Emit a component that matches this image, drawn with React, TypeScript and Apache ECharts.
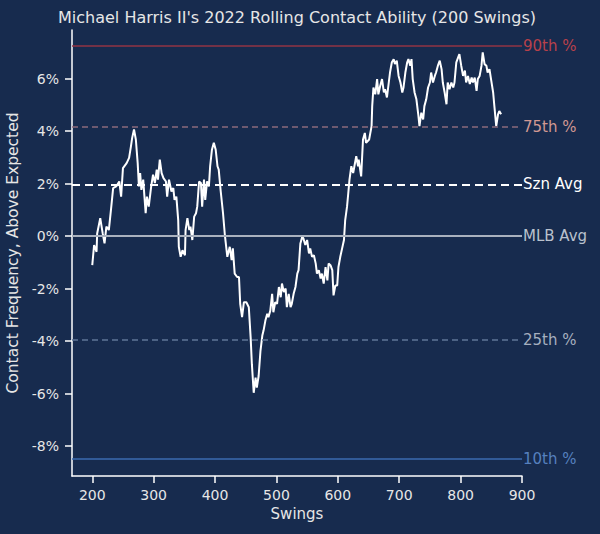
import React, { useEffect, useRef } from "react";
import * as echarts from "echarts";

const swings = [
  200, 203, 207, 208, 213, 217, 220, 223, 227, 231, 234, 239, 244, 247, 250, 256, 260, 263, 265, 268,
  271, 274, 276, 278, 280, 283, 285, 287, 289, 292, 296, 299, 302, 305, 307, 310, 313, 316, 320, 322,
  325, 329, 332, 334, 337, 340, 341, 344, 347, 351, 352, 355, 358, 360, 363, 366, 369, 371, 374, 377,
  379, 382, 384, 387, 390, 392, 395, 398, 401, 404, 406, 409, 413, 416, 420, 424, 427, 429, 432, 436,
  439, 441, 444, 447, 451, 455, 458, 460, 463, 466, 468, 471, 474, 477, 479, 482, 485, 487, 490, 493,
  495, 498, 501, 504, 507, 509, 512, 515, 517, 520, 523, 525, 528, 531, 534, 536, 539, 542, 544, 547,
  550, 553, 555, 558, 561, 564, 566, 569, 572, 574, 577, 580, 583, 585, 588, 591, 593, 596, 599, 601,
  604, 607, 610, 612, 615, 617, 619, 622, 625, 627, 630, 633, 634, 638, 641, 644, 646, 651, 655, 656,
  658, 661, 664, 666, 669, 672, 675, 677, 680, 683, 685, 688, 691, 693, 696, 699, 702, 705, 707, 710,
  713, 715, 718, 720, 722, 725, 728, 731, 733, 736, 739, 741, 744, 747, 750, 752, 755, 758, 760, 763,
  766, 769, 771, 774, 777, 779, 782, 785, 788, 790, 793, 796, 798, 801, 804, 807, 809, 812, 815, 818,
  820, 823, 826, 828, 831, 834, 836, 839, 842, 844, 847, 850, 853, 855, 858, 861, 863, 866,
];

const contact = [
  -1.11, -0.34, -0.6, 0.1, 0.68, 0.1, -0.28, 0.36, 0.23, 1.12, 1.83, 1.89, 2.08, 1.5, 2.59, 2.78, 2.98, 3.42, 3.74, 4.06,
  3.68, 2.78, 1.89, 2.4, 1.76, 2.15, 1.5, 0.87, 1.5, 1.12, 1.89, 2.34, 2.02, 2.53, 2.15, 2.91, 2.4, 2.21, 2.08, 1.5,
  2.15, 1.7, 1.83, 1.38, 1.5, 0.61, -0.41, -0.79, -0.54, -0.73, 0.23, 0.68, 0.23, 0.36, -0.15, 0.74, 0.87, 1.12, 2.08, 2.02,
  1.12, 2.15, 1.38, 2.08, 1.89, 2.66, 3.3, 3.55, 3.3, 2.66, 2.53, 1.76, 0.87, 0.04, -0.79, -0.41, -0.92, -0.47, -1.43, -1.56,
  -1.56, -2.58, -3.09, -2.52, -2.52, -2.71, -3.86, -4.88, -5.97, -5.39, -5.77, -5.33, -4.37, -3.79, -3.6, -3.22, -2.96, -3.09, -2.84, -2.2,
  -2.9, -2.52, -2.58, -1.94, -2.33, -1.81, -2.13, -2.0, -2.71, -2.2, -2.71, -2.58, -2.2, -1.94, -1.43, -1.3, -0.28, -0.03, -0.09, -0.34,
  -0.15, -0.66, -0.47, -0.79, -0.73, -1.05, -1.43, -1.3, -1.62, -1.43, -1.81, -1.18, -1.69, -1.05, -1.11, -1.3, -2.26, -1.88, -1.88, -1.18,
  -0.79, -0.47, -0.15, 0.61, 1.12, 1.63, 2.15, 2.66, 2.4, 2.66, 3.04, 2.66, 2.91, 2.27, 3.68, 3.93, 3.55, 3.68, 4.19, 4.95,
  5.66, 5.4, 5.98, 5.4, 5.72, 5.98, 5.47, 5.59, 5.28, 5.85, 6.23, 6.62, 6.74, 6.55, 6.68, 6.1, 5.85, 5.47, 5.66, 6.23,
  6.62, 6.74, 6.49, 6.74, 5.98, 5.47, 5.21, 4.64, 4.19, 4.7, 4.44, 4.95, 5.21, 5.66, 5.85, 6.23, 5.85, 6.1, 6.23, 6.49,
  6.68, 6.36, 5.85, 5.47, 5.02, 5.85, 5.59, 5.85, 5.66, 5.85, 6.62, 6.81, 6.93, 6.49, 6.1, 6.3, 5.85, 6.1, 5.79, 6.04,
  5.85, 6.04, 5.53, 5.98, 6.1, 6.49, 7.0, 6.55, 6.49, 6.23, 6.36, 5.91, 5.47, 4.95, 4.19, 4.64, 4.76, 4.64,
];

const refNames = ["90th %", "75th %", "Szn Avg", "MLB Avg", "25th %", "10th %"];
const refValues = [7.24, 4.15, 1.97, 0, -3.96, -8.5];

const xTicks = [200, 300, 400, 500, 600, 700, 800, 900];
const yTicks = [-8, -6, -4, -2, 0, 2, 4, 6];

const refStyles = [
  { line: "#933444", label: "#b8414b", type: "solid", width: 1.5 },
  { line: "#8c6b7c", label: "#d19892", type: [6, 4], width: 1.5 },
  { line: "#ffffff", label: "#ffffff", type: [8, 5], width: 2 },
  { line: "#a9b1be", label: "#b9c1cd", type: "solid", width: 2 },
  { line: "#5f7597", label: "#a6afbf", type: [6, 4], width: 1.5 },
  { line: "#3b6bb0", label: "#5680be", type: "solid", width: 1.5 },
];

const FONT = "DejaVu Sans";
const BG = "#172b4e";
const TXT = "#e6e6e6";

export default function App() {
  const ref = useRef<HTMLDivElement>(null);
  useEffect(() => {
    document.body.style.margin = "0";
    const chart = echarts.init(ref.current!, undefined, { renderer: "svg" });
    const data = swings.map((s, i) => [s, contact[i]]);
    const markData = refValues.map((v, i) => ({
      yAxis: v,
      lineStyle: { color: refStyles[i].line, type: refStyles[i].type as any, width: refStyles[i].width },
      label: {
        show: true,
        position: "end",
        distance: 1,
        formatter: refNames[i],
        color: refStyles[i].label,
        fontFamily: FONT,
        fontSize: 15,
      },
    }));
    chart.setOption({
      animation: false,
      backgroundColor: BG,
      textStyle: { fontFamily: FONT },
      grid: { left: 72, right: 78, top: 30, bottom: 58, containLabel: false, outerBoundsMode: "none" },
      graphic: [
        {
          type: "text",
          x: 297,
          y: 17,
          style: {
            text: "Michael Harris II's 2022 Rolling Contact Ability (200 Swings)",
            fill: TXT,
            font: `16px "${FONT}"`,
            textAlign: "center",
            textVerticalAlign: "middle",
          },
        },
      ],
      xAxis: {
        type: "value",
        min: 167,
        max: 900,
        name: "Swings",
        nameLocation: "middle",
        nameGap: 30,
        nameTextStyle: { color: TXT, fontSize: 15, fontFamily: FONT },
        axisLine: { show: true, onZero: false, lineStyle: { color: "#ffffff", width: 1.5 } },
        axisTick: { show: true, customValues: xTicks, length: 7, lineStyle: { color: "#ffffff", width: 1.5 } },
        axisLabel: { customValues: xTicks, color: TXT, fontSize: 14, fontFamily: FONT, margin: 12 },
        splitLine: { show: false },
      },
      yAxis: {
        type: "value",
        min: -9.14,
        max: 7.85,
        name: "Contact Frequency, Above Expected",
        nameLocation: "middle",
        nameGap: 47,
        nameTextStyle: { color: TXT, fontSize: 15.5, fontFamily: FONT },
        axisLine: { show: true, onZero: false, lineStyle: { color: "#ffffff", width: 1.5 } },
        axisTick: { show: true, customValues: yTicks, length: 7, lineStyle: { color: "#ffffff", width: 1.5 } },
        axisLabel: {
          customValues: yTicks,
          color: TXT,
          fontSize: 14,
          fontFamily: FONT,
          margin: 13,
          formatter: (v: number) => `${Math.round(v)}%`,
        },
        splitLine: { show: false },
      },
      series: [
        {
          type: "line",
          data: data,
          z: 1,
          silent: true,
          showSymbol: false,
          symbol: "none",
          lineStyle: { opacity: 0 },
          markLine: { silent: true, symbol: "none", data: markData },
        },
        {
          type: "line",
          data: data,
          z: 3,
          showSymbol: false,
          symbol: "none",
          lineStyle: { color: "#ffffff", width: 2 },
        },
      ],
    });
    return () => chart.dispose();
  }, []);
  return <div ref={ref} style={{ width: 600, height: 534 }} />;
}
